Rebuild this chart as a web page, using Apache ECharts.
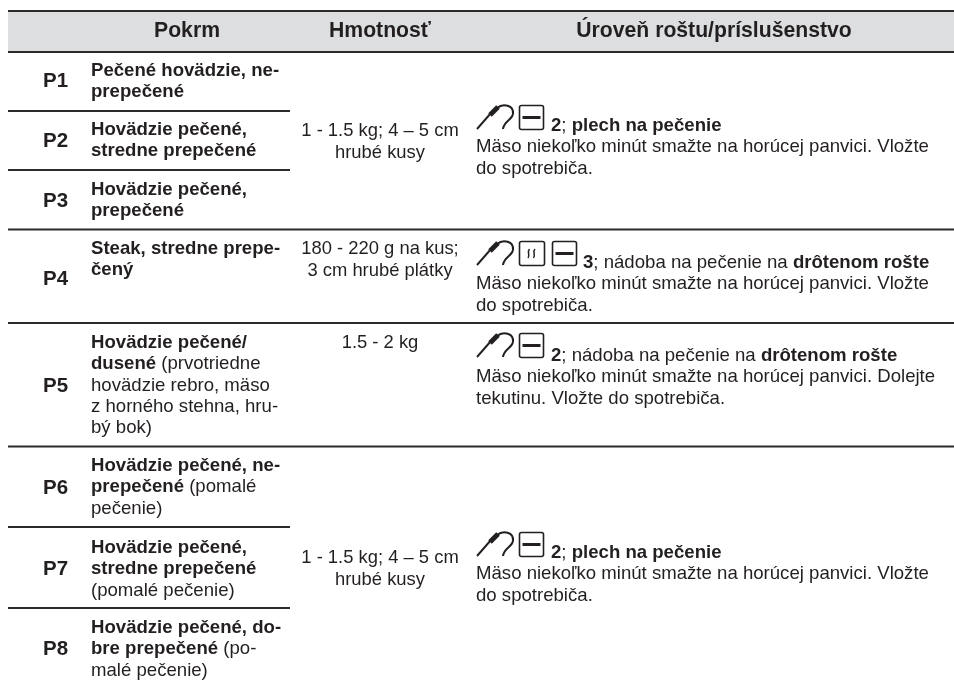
<!DOCTYPE html>
<html>
<head>
<meta charset="utf-8">
<title>Pokrm</title>
<style>
  html, body { margin: 0; padding: 0; background: #fff; }
  #chart { width: 954px; height: 685px; }
</style>
<script src="https://cdn.jsdelivr.net/npm/echarts@6/dist/echarts.min.js"></script>
</head>
<body>
<div id="chart"></div>
<script>
const headers = ["Pokrm", "Hmotnosť", "Úroveň roštu/príslušenstvo"];
const programs = ["P1", "P2", "P3", "P4", "P5", "P6", "P7", "P8"];

// {b|...} bold, the rest regular
const dishes = [
  ["{b|Pečené hovädzie, ne-}", "{b|prepečené}"],
  ["{b|Hovädzie pečené,}", "{b|stredne prepečené}"],
  ["{b|Hovädzie pečené,}", "{b|prepečené}"],
  ["{b|Steak, stredne prepe-}", "{b|čený}"],
  ["{b|Hovädzie pečené/}", "{b|dusené} (prvotriedne", "hovädzie rebro, mäso", "z horného stehna, hru-", "bý bok)"],
  ["{b|Hovädzie pečené, ne-}", "{b|prepečené} (pomalé", "pečenie)"],
  ["{b|Hovädzie pečené,}", "{b|stredne prepečené}", "(pomalé pečenie)"],
  ["{b|Hovädzie pečené, do-}", "{b|bre prepečené} (po-", "malé pečenie)"],
];
const weights = [
  ["1 - 1.5 kg; 4 – 5 cm", "hrubé kusy"],
  ["180 - 220 g na kus;", "3 cm hrubé plátky"],
  ["1.5 - 2 kg"],
  ["1 - 1.5 kg; 4 – 5 cm", "hrubé kusy"],
];
const accessories = [
  ["{b|2}; {b|plech na pečenie}", "Mäso niekoľko minút smažte na horúcej panvici. Vložte", "do spotrebiča."],
  ["{b|3}; nádoba na pečenie na {b|drôtenom rošte}", "Mäso niekoľko minút smažte na horúcej panvici. Vložte", "do spotrebiča."],
  ["{b|2}; nádoba na pečenie na {b|drôtenom rošte}", "Mäso niekoľko minút smažte na horúcej panvici. Dolejte", "tekutinu. Vložte do spotrebiča."],
  ["{b|2}; {b|plech na pečenie}", "Mäso niekoľko minút smažte na horúcej panvici. Vložte", "do spotrebiča."],
];

// layout, in page pixels
const FONT = '"Liberation Sans", Arial, sans-serif';
const INK = "#231f20";
const BODY_SIZE = 18.6;
const programY = [81, 141, 201, 279, 386, 488, 569, 649];
const dishY = [71, 130, 190, 249, 343, 466, 548, 628];
const weightY = [131, 249, 343, 558];
const accessoryY = [126, 263, 356, 553];
const accessoryX = [551, 583, 551, 551];
const iconBottom = [130, 266, 358, 557];
const fullRules = [11, 52, 229.5, 323, 446.5];
const shortRules = [111, 170, 527, 608];

const elements = [];

function addText(text, x, y, opts) {
  elements.push({
    type: "text",
    x,
    y,
    silent: true,
    style: Object.assign({
      text,
      fontFamily: FONT,
      fontSize: BODY_SIZE,
      fill: INK,
      verticalAlign: "middle",
      align: "left",
      rich: { b: { fontFamily: FONT, fontSize: BODY_SIZE, fontWeight: "bold", fill: INK } },
    }, opts),
  });
}

function addRule(y, x2) {
  elements.push({
    type: "line",
    silent: true,
    shape: { x1: 8, y1: y, x2, y2: y },
    style: { stroke: "#2b2b2b", lineWidth: 1.8 },
  });
}

function addBox(x, bottom, w) {
  elements.push({
    type: "rect",
    silent: true,
    shape: { x: x + 0.5, y: bottom - 24.5, width: w, height: 24, r: 2 },
    style: { fill: "none", stroke: INK, lineWidth: 1.6 },
  });
}

function addTrayIcon(x, bottom) {
  addBox(x, bottom, 24);
  elements.push({
    type: "line",
    silent: true,
    shape: { x1: x + 3.5, y1: bottom - 12.5, x2: x + 21.5, y2: bottom - 12.5 },
    style: { stroke: INK, lineWidth: 3 },
  });
}

function addFanIcon(x, bottom) {
  addBox(x, bottom, 25);
  [8.5, 14].forEach((dx) => {
    elements.push({
      type: "bezierCurve",
      silent: true,
      x: x + dx,
      y: bottom - 17,
      shape: { x1: 2, y1: 0, cpx1: -1, cpy1: 3, cpx2: 3, cpy2: 6, x2: 0.5, y2: 9 },
      style: { fill: "none", stroke: INK, lineWidth: 1.5 },
    });
  });
}

function addProbeIcon(x, bottom) {
  const at = { x, y: bottom, silent: true };
  elements.push(Object.assign({
    type: "line",
    shape: { x1: 1, y1: -1, x2: 15, y2: -17 },
    style: { stroke: INK, lineWidth: 1.9 },
  }, at));
  elements.push(Object.assign({
    type: "line",
    shape: { x1: 14, y1: -15, x2: 22, y2: -23 },
    style: { stroke: INK, lineWidth: 5 },
  }, at));
  elements.push(Object.assign({
    type: "bezierCurve",
    shape: { x1: 21, y1: -22, cpx1: 27, cpy1: -27, cpx2: 38, cpy2: -25, x2: 37, y2: -16 },
    style: { fill: "none", stroke: INK, lineWidth: 2 },
  }, at));
  elements.push(Object.assign({
    type: "bezierCurve",
    shape: { x1: 37, y1: -16, cpx1: 36, cpy1: -10, cpx2: 28, cpy2: -9, x2: 27, y2: -1 },
    style: { fill: "none", stroke: INK, lineWidth: 2 },
  }, at));
}

// header band
elements.push({
  type: "rect",
  silent: true,
  shape: { x: 8, y: 11, width: 946, height: 41 },
  style: { fill: "#dcdee0" },
});
[187, 380, 714].forEach((x, i) => {
  addText(headers[i], x, 31, { fontSize: 21.2, fontWeight: "bold", align: "center" });
});

fullRules.forEach((y) => addRule(y, 954));
shortRules.forEach((y) => addRule(y, 290));

programs.forEach((p, i) => {
  addText(p, 43, programY[i], { fontSize: 20.5, fontWeight: "bold" });
  dishes[i].forEach((line, j) => addText(line, 91, dishY[i] + j * 21.3));
});

weights.forEach((lines, i) => {
  lines.forEach((line, j) => addText(line, 380, weightY[i] + j * 21.5, { align: "center", fontSize: 18.4 }));
});

accessories.forEach((lines, i) => {
  addProbeIcon(476, iconBottom[i]);
  if (i === 1) {
    addFanIcon(519, iconBottom[i]);
    addTrayIcon(552, iconBottom[i]);
  } else {
    addTrayIcon(519, iconBottom[i]);
  }
  addText(lines[0], accessoryX[i], accessoryY[i]);
  addText(lines[1], 476, accessoryY[i] + 21);
  addText(lines[2], 476, accessoryY[i] + 43);
});

const chart = echarts.init(document.getElementById("chart"));
chart.setOption({
  animation: false,
  backgroundColor: "#fff",
  graphic: { elements },
});
</script>
</body>
</html>
